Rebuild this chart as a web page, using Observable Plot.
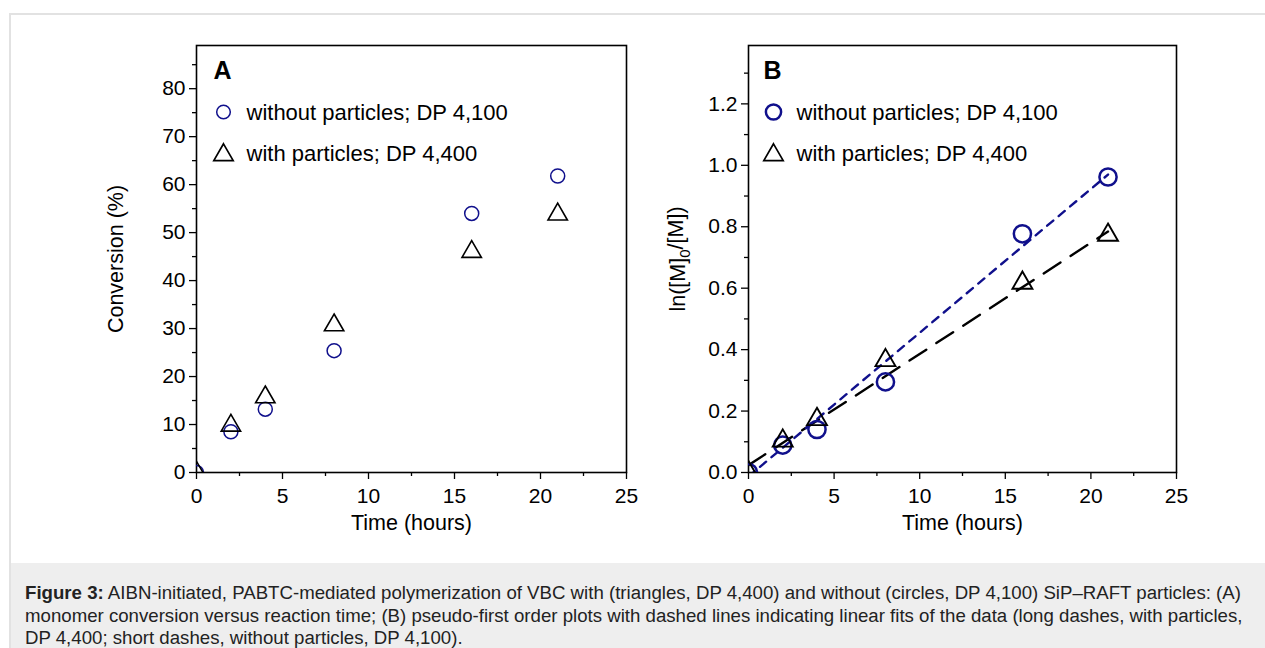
<!DOCTYPE html>
<html><head><meta charset="utf-8">
<script src="https://cdn.jsdelivr.net/npm/d3@7"></script>
<script src="https://cdn.jsdelivr.net/npm/@observablehq/plot@0.6"></script>
<style>
body{margin:0;background:#fff;width:1265px;height:648px;overflow:hidden;position:relative;font-family:"Liberation Sans",Arial,sans-serif}
#border{position:absolute;left:9px;top:13px;right:-5px;bottom:-5px;border-top:2px solid #e2e2e2;border-left:2px solid #e2e2e2}
#caption{position:absolute;left:11px;top:563px;right:0;bottom:0;background:#eeeeee}
#capText{position:absolute;left:25px;top:582px;font-size:18.65px;line-height:22.7px;color:#222;white-space:nowrap}
.panel{position:absolute;top:35px}
</style></head>
<body>
<div id="border"></div>
<div id="caption"></div>
<div id="capText"><b>Figure 3:</b> AIBN-initiated, PABTC-mediated polymerization of VBC with (triangles, DP 4,400) and without (circles, DP 4,100) SiP–RAFT particles: (A)<br>monomer conversion versus reaction time; (B) pseudo-first order plots with dashed lines indicating linear fits of the data (long dashes, with particles,<br>DP 4,400; short dashes, without particles, DP 4,100).</div>
<div id="pa" class="panel" style="left:96px"></div>
<div id="pb" class="panel" style="left:648px"></div>
<script>
// ---- data ----
const timeH = [0, 2, 4, 8, 16, 21];
const convWithout = [0, 8.5, 13.2, 25.4, 54.0, 61.8];
const convWith = [0, 9.8, 15.7, 30.7, 46.0, 53.8];
const lnWithout = [0, 0.089, 0.140, 0.295, 0.777, 0.962];
const lnWith = [0, 0.103, 0.173, 0.365, 0.617, 0.773];
// linear fits: [intercept, slope]
const fitWithout = [-0.013, 0.0468];
const fitWith = [0.024, 0.0362];
const fitSpan = [0, 21];
const seriesNames = ["without particles; DP 4,100", "with particles; DP 4,400"];
const xTicks = [0, 5, 10, 15, 20, 25];
const xMinor = [2.5, 7.5, 12.5, 17.5, 22.5];
const yTicksA = [0, 10, 20, 30, 40, 50, 60, 70, 80];
const yMinorA = [5, 15, 25, 35, 45, 55, 65, 75, 85];
const yTicksB = [0, 0.2, 0.4, 0.6, 0.8, 1.0, 1.2];
const yMinorB = [0.1, 0.3, 0.5, 0.7, 0.9, 1.1, 1.3];

const BLUE = "#10108c";
const FONT = "'Liberation Sans', Arial, sans-serif";

function rows(ys) { return timeH.map((t, i) => ({t, v: ys[i]})); }
function fitRows(f) { return fitSpan.map(t => ({t, v: f[0] + f[1] * t})); }

function panel(o) {
  const marks = [
    Plot.axisX(xTicks, {tickSize: 7, tickPadding: 9, fontSize: 21, label: null, strokeWidth: 1.3}),
    Plot.axisX(xMinor, {tickSize: 4, tickFormat: () => "", label: null, strokeWidth: 1.3}),
    Plot.axisY(o.yTicks, {tickSize: 7, tickPadding: 4, fontSize: 21, label: null, tickFormat: o.fmt, strokeWidth: 1.3}),
    Plot.axisY(o.yMinor, {tickSize: 4, tickFormat: () => "", label: null, strokeWidth: 1.3}),
    Plot.frame({stroke: "#000", strokeWidth: 1.6})
  ];
  if (o.fits) {
    marks.push(Plot.line(fitRows(fitWith), {x: "t", y: "v", stroke: "#000", strokeWidth: 2.4, strokeDasharray: "20,12", clip: true}));
    marks.push(Plot.line(fitRows(fitWithout), {x: "t", y: "v", stroke: BLUE, strokeWidth: 2.4, strokeDasharray: "8,7", clip: true}));
  }
  marks.push(
    Plot.dot(rows(o.without), {x: "t", y: "v", symbol: "circle", r: o.rc, stroke: BLUE, strokeWidth: o.swc, fill: "none", clip: true}),
    Plot.dot(rows(o.with), {x: "t", y: "v", symbol: "triangle", r: o.rt, stroke: "#000", strokeWidth: o.swt, fill: "none", clip: true}),
    Plot.text([o.letter], {text: d => d, frameAnchor: "top-left", dx: o.ldx, dy: 25, fontSize: 25, fontWeight: "bold", textAnchor: "start", lineAnchor: "middle", fill: "#000"}),
    Plot.dot([0], {frameAnchor: "top-left", dx: o.ldx + 10, dy: 66.5, symbol: "circle", r: o.lrc, stroke: BLUE, strokeWidth: o.swc, fill: "none"}),
    Plot.dot([0], {frameAnchor: "top-left", dx: o.ldx + 10, dy: 109.5, symbol: "triangle", r: 7.2, stroke: "#000", strokeWidth: 1.7, fill: "none"}),
    Plot.text([seriesNames[0]], {text: d => d, frameAnchor: "top-left", dx: o.ldx + 33, dy: 67, fontSize: 22, textAnchor: "start", lineAnchor: "middle", fill: "#000"}),
    Plot.text([seriesNames[1]], {text: d => d, frameAnchor: "top-left", dx: o.ldx + 33, dy: 108, fontSize: 22, textAnchor: "start", lineAnchor: "middle", fill: "#000"}),
    Plot.text(["Time (hours)"], {text: d => d, frameAnchor: "bottom", dy: 57, fontSize: 21.5, fill: "#000"}),
    Plot.text([o.ylabel], {text: d => d, frameAnchor: "left", textAnchor: "middle", rotate: -90, dx: o.ylx, fontSize: 21.5, fill: "#000"})
  );
  return Plot.plot({
    width: o.width, height: 510,
    marginLeft: 100, marginRight: 10, marginTop: 10, marginBottom: 73,
    x: {domain: [0, 25]},
    y: {domain: o.yDomain},
    style: {fontFamily: FONT, fontSize: "21px", color: "#000", background: "transparent", overflow: "visible"},
    marks
  });
}

const svgA = panel({width: 540, yDomain: [0, 89], yTicks: yTicksA, yMinor: yMinorA, fmt: d3.format("d"),
  without: convWithout, with: convWith, fits: false, letter: "A", ldx: 17,
  rc: 7, swc: 1.5, rt: 7.2, swt: 1.6, lrc: 6.8, ylabel: "Conversion (%)", ylx: -80});
const svgB = panel({width: 538, yDomain: [0, 1.39], yTicks: yTicksB, yMinor: yMinorB, fmt: d3.format(".1f"),
  without: lnWithout, with: lnWith, fits: true, letter: "B", ldx: 15,
  rc: 8.6, swc: 2.5, rt: 7.4, swt: 1.9, lrc: 7.6, ylabel: "ln([M]0/[M])", ylx: -70});

document.getElementById("pa").appendChild(svgA);
document.getElementById("pb").appendChild(svgB);

// subscript in the B y label
svgB.querySelectorAll("text").forEach(t => {
  if (t.textContent === "ln([M]0/[M])") {
    while (t.firstChild) t.removeChild(t.firstChild);
    const ns = "http://www.w3.org/2000/svg";
    const a = document.createElementNS(ns, "tspan"); a.textContent = "ln([M]";
    const b = document.createElementNS(ns, "tspan"); b.textContent = "0"; b.setAttribute("dy", "0.3em"); b.setAttribute("font-size", "15");
    const c = document.createElementNS(ns, "tspan"); c.textContent = "/[M])"; c.setAttribute("dy", "-0.3em");
    t.append(a, b, c);
  }
});
</script>
</body></html>
